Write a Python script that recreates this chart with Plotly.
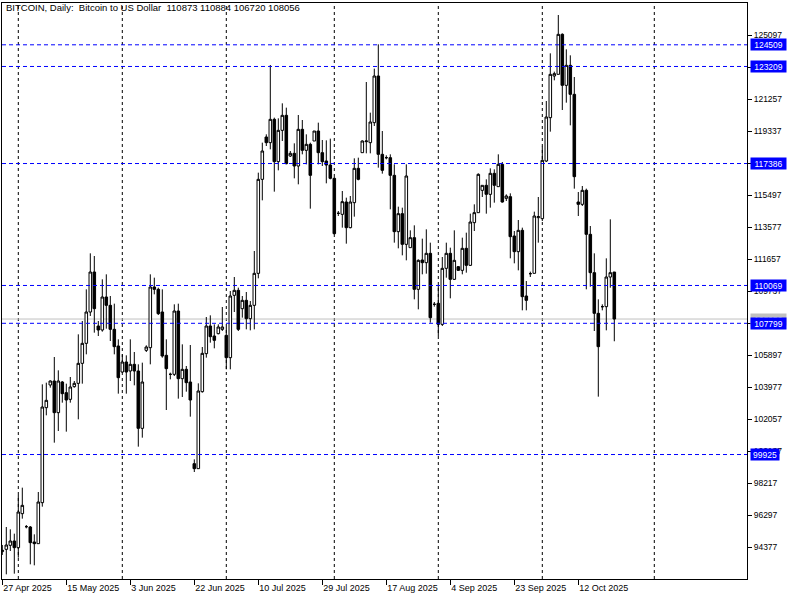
import plotly.graph_objects as go

# Daily OHLC (bars in order, oldest first)
opens = [94100, 94237, 94477, 94737, 94337, 96377, 95597, 95577, 94677, 94577,
         97037, 102737, 104097, 104337, 102437, 104277, 103637, 103237, 103997, 104197,
         105397, 106597, 108477, 110877, 107637, 107397, 109377, 108877, 107437, 106437,
         104877, 105477, 104937, 105337, 104937, 101497, 106177, 106337, 109977, 109837,
         108477, 105877, 104737, 104737, 108537, 104477, 105037, 104277, 99377, 99077,
         103697, 105977, 107637, 107037, 107177, 107437, 107077, 105737, 109477, 109777,
         108677, 109177, 108077, 108877, 110797, 116437, 118977, 118637, 120037, 117497,
         119377, 120277, 117837, 117997, 117237, 119437, 118177, 118537, 118737, 119337,
         118037, 117537, 117297, 116497, 114397, 114337, 115077, 113537, 115037, 117097,
         118037, 118697, 118637, 119837, 122637, 117937, 117737, 117737, 116677, 113297,
         114377, 112537, 112337, 112937, 109837, 111597, 111437, 111997, 108937, 108997,
         107737, 111097, 111997, 110437, 111197, 110977, 112297, 111277, 113837, 114437,
         115777, 116077, 115537, 116797, 115997, 117337, 115297, 115397, 113037, 112097,
         113377, 109437, 110777, 110797, 114137, 114077, 117537, 120137, 122637, 122737,
         125137, 122077, 123277, 121537, 115077, 114937, 115777, 113137, 110837, 108397,
         108797, 108797, 110577, 110873]
highs = [94500, 95577, 95437, 95177, 97497, 97937, 95697, 95637, 95137, 97677,
         104137, 104237, 104377, 105777, 104977, 104337, 104177, 104577, 104337, 107137,
         107937, 109837, 111997, 111837, 107937, 110437, 110737, 109437, 108977, 106837,
         105937, 105877, 106837, 106077, 105337, 105437, 106477, 110737, 110537, 109937,
         109837, 106837, 104837, 108937, 108977, 106537, 105237, 106497, 99637, 104197,
         106377, 108177, 108277, 107737, 107737, 108777, 107577, 109737, 110577, 109937,
         109437, 109677, 109137, 112137, 116837, 118637, 119137, 123297, 120137, 120097,
         120997, 120737, 118137, 118597, 120297, 119997, 119137, 118637, 119337, 119837,
         118797, 118777, 118877, 116577, 114537, 115737, 115337, 115437, 117697, 117737,
         118777, 122277, 120437, 123077, 124537, 119337, 117877, 117937, 117337, 114797,
         114737, 117337, 113377, 113677, 111637, 112877, 113437, 112637, 109077, 110037,
         111777, 112637, 112337, 113377, 111237, 112937, 113237, 114377, 114937, 116797,
         116077, 116437, 117097, 117037, 117937, 117477, 115537, 115597, 113337, 113997,
         113537, 110337, 110897, 114497, 115377, 118397, 121137, 123997, 122897, 126297,
         125197, 124237, 123877, 122577, 115677, 116037, 115877, 113637, 111997, 109237,
         108937, 111697, 114037, 110884]
lows = [93900, 92737, 94137, 92777, 93737, 96077, 95497, 93337, 93277, 94577,
        96797, 102277, 103937, 100637, 101337, 103037, 101297, 103037, 103937, 102037,
        104177, 105937, 108237, 107237, 107037, 107297, 107477, 106737, 105937, 103577,
        104837, 103577, 104337, 104077, 100397, 100937, 106077, 105337, 109537, 108297,
        105737, 102597, 104437, 104637, 103277, 103377, 103697, 102197, 98877, 99077,
        103637, 105737, 106637, 106297, 107137, 107337, 105037, 105037, 108477, 107337,
        108137, 107437, 107377, 107437, 110497, 115177, 118437, 118237, 115697, 116977,
        118737, 117337, 117777, 116497, 116137, 117937, 117337, 114677, 118737, 117337,
        117237, 116197, 116437, 113137, 114237, 113537, 112577, 113497, 114197, 116377,
        118037, 117997, 117997, 119637, 117137, 116777, 117637, 114637, 112637, 112297,
        111877, 111577, 112337, 109237, 108637, 110737, 110777, 107837, 108797, 107037,
        107637, 110537, 109297, 110397, 110937, 110737, 110837, 111237, 113337, 114437,
        115377, 114377, 114737, 115037, 115997, 115037, 115137, 111697, 111397, 110977,
        108577, 108577, 110577, 110797, 112637, 113937, 117477, 119297, 122377, 122737,
        120597, 121037, 119677, 115877, 114237, 114837, 109837, 109997, 107337, 103397,
        108577, 107377, 109937, 106720]
closes = [94180, 94497, 94737, 94337, 96477, 96877, 95597, 94637, 94577, 97077,
          102777, 103177, 104337, 102437, 104337, 103577, 103197, 103977, 104197, 105397,
          106597, 108477, 110877, 108677, 107397, 109377, 108877, 107437, 106397, 104537,
          105477, 104877, 105337, 104937, 101497, 104277, 106377, 109977, 109837, 108377,
          105837, 105077, 104737, 108537, 104477, 105037, 104237, 103197, 99077, 103737,
          105997, 107637, 106997, 106777, 107577, 107577, 105737, 109437, 109777, 107437,
          109177, 108077, 108877, 110797, 116437, 118137, 118637, 120037, 117497, 119377,
          120277, 117377, 117997, 117237, 119437, 118177, 118537, 116677, 119337, 118037,
          117497, 117297, 116497, 113177, 114397, 115097, 113537, 115077, 117097, 116437,
          118737, 118737, 119877, 122637, 117937, 116977, 117737, 116677, 113297, 114377,
          112537, 116637, 112937, 109837, 111577, 111437, 111997, 108137, 108937, 107737,
          111097, 111997, 110437, 111577, 110977, 112297, 111277, 113877, 114437, 116737,
          116077, 115537, 116797, 116077, 117337, 115077, 115437, 112997, 112097, 113377,
          109397, 109177, 110777, 114237, 114197, 117577, 120177, 122737, 122777, 125137,
          122077, 123277, 121537, 116597, 114937, 115777, 113137, 110837, 108397, 106397,
          108797, 110577, 110837, 108056]

# Time scale labels (bar index -> label)
date_tick_idx = [0, 16, 32, 48, 64, 80, 96, 112, 128, 144]
date_tick_text = ["27 Apr 2025", "15 May 2025", "3 Jun 2025", "22 Jun 2025", "10 Jul 2025",
                  "29 Jul 2025", "17 Aug 2025", "4 Sep 2025", "23 Sep 2025", "12 Oct 2025"]
# vertical grid (period separators) at bar indices
grid_idx = [4, 30, 56, 83, 109, 135, 163]

# Price scale labels
price_ticks = [125097, 123177, 121257, 119337, 117417, 115497, 113577, 111657, 109737,
               107817, 105897, 103977, 102057, 100137, 98217, 96297, 94377]
# Horizontal levels (blue dashed lines)
levels = [124509, 123209, 117386, 110069, 107799, 99925]
bid_price = 108056

title_text = ("BITCOIN, Daily:\u00a0\u00a0Bitcoin to US Dollar\u00a0\u00a0"
              "110873 110884 106720 108056")

idx = list(range(len(opens)))
FONT = "Liberation Sans, Arial, sans-serif"

fig = go.Figure()
fig.add_trace(go.Candlestick(
    x=idx, open=opens, high=highs, low=lows, close=closes,
    increasing=dict(line=dict(color="black", width=1), fillcolor="white"),
    decreasing=dict(line=dict(color="black", width=1), fillcolor="black"),
    whiskerwidth=0, showlegend=False, hoverinfo="skip",
))

shapes = []
for g in grid_idx:
    shapes.append(dict(type="line", xref="x", yref="paper", x0=g, x1=g, y0=0, y1=1,
                       line=dict(color="black", width=1, dash="3px,3px"), layer="below"))
shapes.append(dict(type="line", xref="paper", yref="y", x0=0, x1=1, y0=bid_price, y1=bid_price,
                   line=dict(color="#C0C0C0", width=1), layer="below"))
for lv in levels:
    shapes.append(dict(type="line", xref="paper", yref="y", x0=0, x1=1, y0=lv, y1=lv,
                       line=dict(color="#0000FF", width=1, dash="4px,3px"), layer="above"))

annotations = [dict(xref="paper", yref="paper", x=0, y=1, xanchor="left", yanchor="top",
                    xshift=2, yshift=3, text=title_text, showarrow=False,
                    font=dict(family=FONT, size=9.5, color="black"))]
annotations.append(dict(xref="paper", yref="y", x=1, y=bid_price, xanchor="left", yanchor="middle",
                        xshift=3, text=str(bid_price), showarrow=False, bgcolor="#C0C0C0",
                        width=35, height=11, borderpad=0,
                        font=dict(family=FONT, size=8.5, color="white")))
for lv in levels:
    s = str(lv)
    annotations.append(dict(xref="paper", yref="y", x=1, y=lv, xanchor="left", yanchor="middle",
                            xshift=3, text=s, showarrow=False, bgcolor="#0000FF",
                            width=35 if len(s) > 5 else 28, height=11, borderpad=0,
                            font=dict(family=FONT, size=8.5, color="white")))

fig.update_layout(
    width=800, height=600,
    margin=dict(l=2, r=53, t=3, b=21),
    paper_bgcolor="white", plot_bgcolor="white",
    shapes=shapes, annotations=annotations,
    showlegend=False,
    boxgap=0.2, boxgroupgap=0.2,
    xaxis=dict(range=[-0.075, 186.175], rangeslider=dict(visible=False),
               tickmode="array", tickvals=date_tick_idx, ticktext=date_tick_text,
               ticks="outside", ticklen=5, tickcolor="black", tickwidth=1,
               ticklabelposition="outside right",
               tickfont=dict(family=FONT, size=9, color="black"),
               showgrid=False, zeroline=False, showline=True, linecolor="black",
               linewidth=1, mirror=True, fixedrange=True),
    yaxis=dict(range=[92457, 127017], side="right",
               tickmode="array", tickvals=price_ticks, ticktext=[str(p) for p in price_ticks],
               ticks="outside", ticklen=4, tickcolor="black", tickwidth=1,
               tickfont=dict(family=FONT, size=8.5, color="black"),
               showgrid=False, zeroline=False, showline=True, linecolor="black",
               linewidth=1, mirror=True, fixedrange=True),
)

fig.write_html("out.html", config={"displayModeBar": False},
               post_script="document.body.style.margin='0';document.body.style.overflow='hidden';")
